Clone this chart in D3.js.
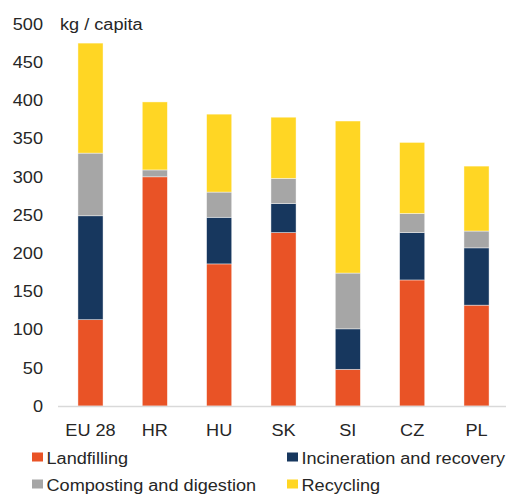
<!DOCTYPE html>
<html>
<head>
<meta charset="utf-8">
<script src="https://cdn.jsdelivr.net/npm/d3@7"></script>
<style>
  body { margin: 0; background: #fff; }
  svg { display: block; }
</style>
</head>
<body>
<svg id="chart"></svg>
<script>
var countries = ["EU 28", "HR", "HU", "SK", "SI", "CZ", "PL"]
var landfilling = [113, 300, 186, 227, 48, 165, 132]
var incineration = [136, 0, 61, 38, 53, 62, 75]
var composting = [82, 9, 33, 33, 73, 25, 22]
var recycling = [144, 89, 102, 80, 199, 93, 85]
var yTicks = [0, 50, 100, 150, 200, 250, 300, 350, 400, 450, 500]

var seriesNames = ["Landfilling", "Incineration and recovery", "Composting and digestion", "Recycling"]
var colors = ["#e95326", "#17375e", "#a6a6a6", "#ffd624"]

var width = 506
var height = 495
var fontSize = 16.2
var stretch = 1.12 // text in the original is a bit wide

var rows = countries.map(function(c, i) {
  return {
    country: c,
    "Landfilling": landfilling[i],
    "Incineration and recovery": incineration[i],
    "Composting and digestion": composting[i],
    "Recycling": recycling[i]
  }
})

var stack = d3.stack().keys(seriesNames)(rows)

var x = d3.scaleBand()
  .domain(countries)
  .range([58, 509])
  .paddingInner(0.61)
  .paddingOuter(0.31)

var y = d3.scaleLinear()
  .domain([0, 500])
  .range([406, 24])

const svg = d3.select("#chart")
  .attr("width", width)
  .attr("height", height)
  .style("font-family", "'Liberation Sans', Arial, sans-serif")

function place(px, py) {
  return `translate(${px},${py}) scale(${stretch},1)`
}

// bars
svg.append("g")
  .selectAll("g")
  .data(stack)
  .join("g")
  .attr("fill", (d, i) => colors[i])
  .selectAll("rect")
  .data(d => d)
  .join("rect")
  .attr("x", d => x(d.data.country))
  .attr("width", x.bandwidth())
  .attr("y", d => y(d[1]))
  .attr("height", d => y(d[0]) - y(d[1]))
  .attr("stroke", "#ffffff")
  .attr("stroke-opacity", 0.6)
  .attr("stroke-width", 0.7)

// baseline
svg.append("line")
  .attr("x1", 58)
  .attr("x2", 506)
  .attr("y1", y(0) + 0.5)
  .attr("y2", y(0) + 0.5)
  .attr("stroke", "#d9d9d9")
  .attr("stroke-width", 1.5)

// y labels
svg.append("g")
  .selectAll("text")
  .data(yTicks)
  .join("text")
  .attr("transform", d => place(43, y(d)))
  .attr("dy", "0.36em")
  .attr("text-anchor", "end")
  .attr("font-size", fontSize)
  .attr("fill", "#262626")
  .text(d => d)

svg.append("text")
  .attr("transform", place(60, y(500)))
  .attr("dy", "0.36em")
  .attr("font-size", fontSize)
  .attr("fill", "#262626")
  .text("kg / capita")

// x labels
svg.append("g")
  .selectAll("text")
  .data(countries)
  .join("text")
  .attr("transform", d => place(x(d) + x.bandwidth() / 2, 436))
  .attr("text-anchor", "middle")
  .attr("font-size", fontSize)
  .attr("fill", "#262626")
  .text(d => d)

// legend
var legendPos = [[32, 464], [287, 464], [32, 491], [287, 491]]
const legend = svg.append("g")
  .selectAll("g")
  .data(seriesNames)
  .join("g")
  .attr("transform", (d, i) => `translate(${legendPos[i][0]},${legendPos[i][1]})`)

legend.append("rect")
  .attr("x", 0)
  .attr("y", -11.5)
  .attr("width", 11)
  .attr("height", 9)
  .attr("fill", (d, i) => colors[i])

legend.append("text")
  .attr("transform", place(14.5, 0))
  .attr("font-size", fontSize)
  .attr("fill", "#262626")
  .text(d => d)
</script>
</body>
</html>
